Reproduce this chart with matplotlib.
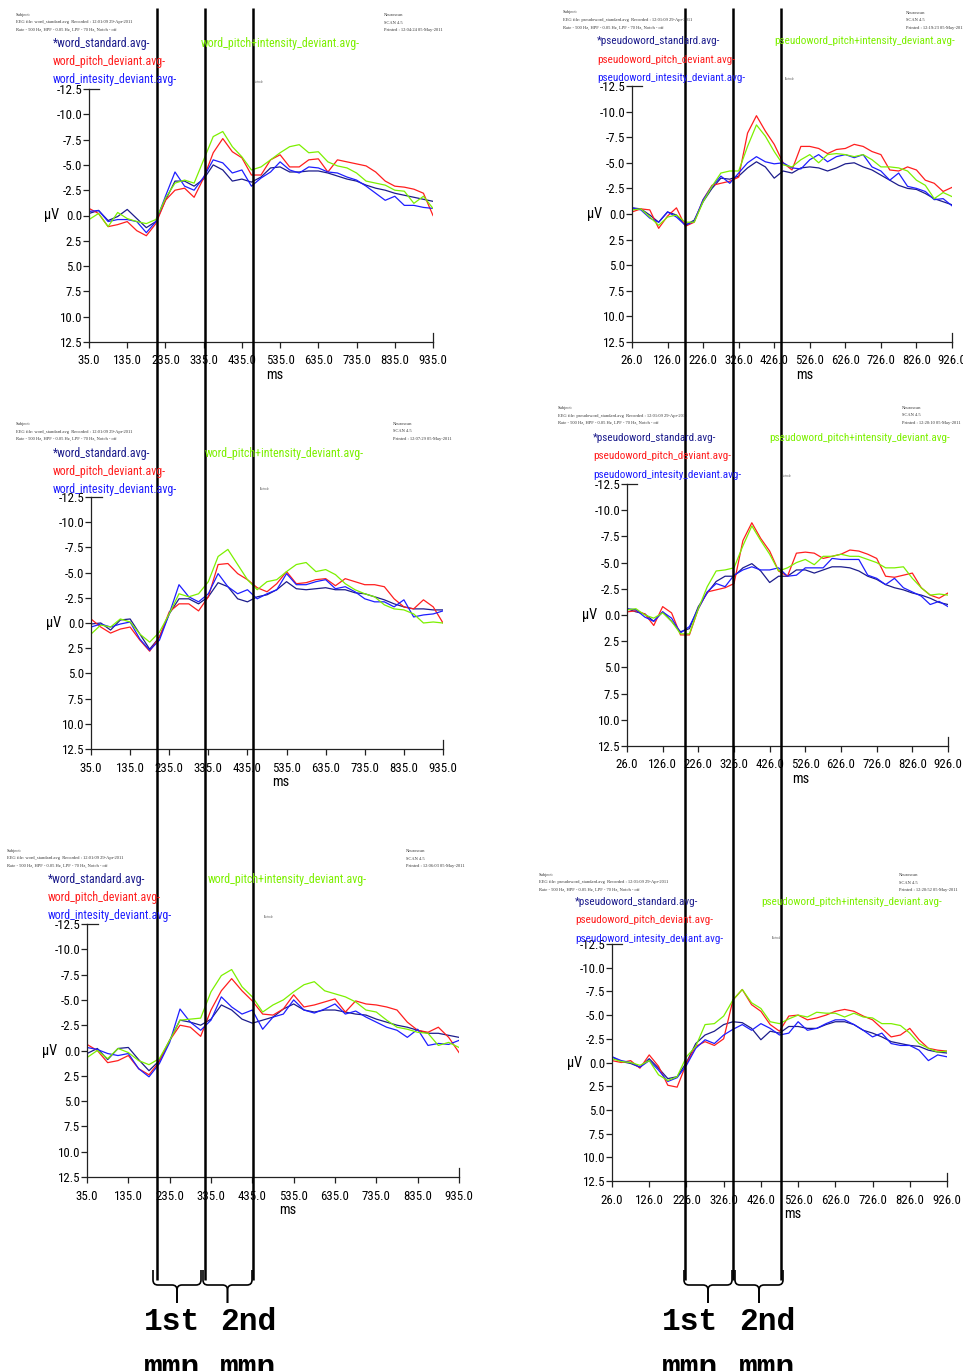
import matplotlib
matplotlib.use('Agg')
import matplotlib.pyplot as plt
import matplotlib.font_manager as fm
from matplotlib.font_manager import FontProperties
from matplotlib.textpath import TextPath
from matplotlib.path import Path
from matplotlib.patches import PathPatch
import numpy as np

W, H = 963, 1371

# time axes (ms)
t_word = np.arange(35, 936, 25)
t_pseudo = np.arange(26, 927, 25)
word_ticks = np.arange(35, 936, 100)
pseudo_ticks = np.arange(26, 927, 100)
uv_ticks = np.arange(-12.5, 12.6, 2.5)

# ERP values (uV), negative is up
p1_std = [-0.2, -0.5, 0.5, 0.1, -0.6, 0.3, 1.2, 0.6, -1.5, -3.4, -3.4, -2.9, -3.6, -5.0, -4.5, -3.4, -3.6, -3.3, -3.8,
          -4.7, -4.8, -4.3, -4.3, -4.4, -4.4, -4.2, -3.9, -3.6, -3.4, -3.0, -2.7, -2.5, -2.2, -2.0, -1.8, -1.6, -1.4]
p1_pitch = [-0.7, -0.2, 1.1, 0.9, 0.6, 1.5, 2.0, 0.8, -1.5, -2.5, -2.7, -1.8, -3.7, -6.2, -7.6, -6.3, -5.7, -4.0, -4.0,
            -5.5, -6.0, -4.8, -4.8, -5.5, -5.6, -4.3, -5.5, -5.3, -5.1, -4.9, -4.3, -3.4, -2.9, -2.8, -2.6, -2.2, 0.0]
p1_int = [-0.4, -0.5, 0.6, 0.4, 0.4, 0.6, 1.7, 0.6, -1.9, -4.3, -2.9, -2.5, -3.8, -5.5, -5.2, -4.2, -4.5, -2.9, -3.7,
          -4.3, -5.3, -4.5, -4.2, -4.8, -4.7, -4.3, -4.2, -3.8, -3.5, -2.9, -2.2, -1.5, -1.9, -1.0, -1.0, -0.8, -0.7]
p1_both = [0.4, -0.2, 1.1, -0.3, 0.3, 0.6, 0.8, 0.4, -1.7, -3.2, -3.5, -3.2, -5.5, -7.8, -8.3, -6.8, -5.8, -4.5, -4.8,
           -5.5, -6.2, -6.8, -7.0, -6.2, -6.3, -5.3, -4.9, -4.7, -4.2, -3.4, -3.2, -3.0, -2.5, -2.4, -1.2, -1.9, -0.7]

p2_std = [-0.6, -0.5, 0.1, 0.8, -0.2, 0.1, 1.1, 0.6, -1.2, -2.5, -3.5, -3.4, -3.7, -4.5, -5.1, -4.6, -3.5, -4.2, -4.0,
          -4.5, -4.6, -4.5, -4.2, -4.5, -4.9, -5.0, -4.6, -4.3, -3.8, -3.3, -2.8, -2.5, -2.4, -2.0, -1.5, -1.2, -0.9]
p2_pitch = [-0.2, -0.5, -0.4, 1.4, 0.2, -0.6, 1.2, 0.8, -1.4, -2.8, -3.0, -3.2, -3.6, -7.9, -9.6, -8.1, -6.8, -5.0, -4.3,
            -6.6, -6.6, -6.4, -5.9, -6.3, -6.4, -6.8, -6.6, -6.1, -5.8, -4.3, -4.2, -4.6, -4.3, -3.3, -3.0, -2.2, -2.6]
p2_int = [-0.6, -0.4, 0.4, 0.8, -0.2, 0.3, 1.1, 0.7, -1.4, -2.7, -3.7, -3.0, -4.0, -5.0, -5.6, -5.1, -4.9, -5.0, -4.5,
          -4.4, -5.3, -5.8, -5.1, -5.6, -5.8, -5.5, -5.8, -4.6, -4.2, -3.3, -4.0, -2.7, -2.5, -2.2, -1.4, -1.5, -0.8]
p2_both = [-0.4, -0.5, 0.3, 1.1, 0.3, 0.1, 0.8, 0.8, -1.2, -2.7, -4.0, -4.2, -4.2, -6.6, -8.7, -7.6, -6.1, -4.8, -4.6,
           -5.3, -5.8, -5.0, -5.8, -5.9, -5.8, -5.6, -5.8, -5.3, -4.6, -4.6, -4.5, -4.2, -3.3, -2.8, -1.5, -2.1, -1.7]

p3_std = [0.1, 0.0, 0.7, -0.3, -0.4, 1.1, 2.6, 1.4, -0.9, -2.4, -2.4, -1.9, -2.6, -4.0, -3.6, -2.4, -2.1, -2.6, -2.8,
          -3.3, -4.1, -3.4, -3.3, -3.4, -3.5, -3.3, -3.3, -3.0, -2.9, -2.6, -2.3, -1.9, -1.6, -1.4, -1.4, -1.3, -1.3]
p3_pitch = [-0.4, 0.4, 1.0, 0.6, 0.4, 1.7, 2.8, 1.4, -1.1, -1.9, -1.9, -1.2, -2.6, -5.8, -5.9, -4.9, -4.3, -3.5, -3.1,
            -3.9, -5.1, -3.9, -4.0, -4.3, -4.4, -3.7, -4.4, -4.1, -3.8, -3.8, -3.6, -2.4, -1.6, -1.4, -2.3, -1.6, 0.0]
p3_int = [0.4, 0.1, 0.4, 0.1, -0.1, 1.6, 2.7, 1.7, -0.9, -3.8, -2.6, -2.1, -2.9, -4.9, -3.6, -2.9, -3.3, -2.4, -2.9,
          -3.3, -4.9, -3.8, -3.8, -4.1, -4.3, -3.4, -3.6, -3.1, -2.4, -2.1, -2.1, -1.6, -2.3, -0.6, -0.8, -0.9, -1.2]
p3_both = [1.1, 0.2, 0.4, -0.4, -0.1, 1.1, 1.9, 0.9, -0.9, -2.9, -2.6, -2.9, -4.1, -6.6, -7.3, -5.8, -4.3, -3.3, -4.1,
           -4.3, -5.1, -5.8, -6.0, -5.1, -5.3, -4.8, -3.9, -3.3, -2.9, -2.6, -1.8, -1.4, -1.3, -0.9, 0.0, -0.1, 0.0]

p4_std = [-0.6, -0.3, -0.1, 0.6, -0.3, 0.6, 1.6, 1.3, -0.8, -2.1, -3.2, -3.7, -3.7, -4.5, -4.9, -4.2, -3.1, -3.7, -3.7,
          -4.3, -4.3, -4.0, -4.3, -4.6, -4.6, -4.5, -4.2, -3.7, -3.4, -2.9, -2.6, -2.4, -2.1, -1.9, -1.6, -1.2, -1.0]
p4_pitch = [-0.3, -0.4, -0.1, 1.0, -0.8, -0.2, 1.9, 1.9, -0.6, -2.2, -2.4, -2.6, -3.0, -7.1, -8.8, -7.3, -6.1, -4.2, -3.7,
            -5.9, -6.0, -5.9, -5.4, -5.6, -5.8, -6.2, -6.1, -5.8, -5.4, -3.7, -3.6, -3.8, -4.0, -2.6, -1.9, -1.6, -2.1]
p4_int = [-0.6, -0.5, 0.2, 0.6, -0.3, 0.3, 1.7, 1.1, -0.6, -2.2, -3.0, -2.7, -3.8, -4.3, -4.6, -4.3, -4.3, -4.5, -3.7,
          -3.8, -4.5, -4.5, -4.5, -5.4, -5.3, -5.3, -5.3, -3.8, -3.5, -2.9, -3.5, -2.6, -2.2, -1.8, -1.0, -1.3, -0.8]
p4_both = [-0.5, -0.6, 0.0, 0.3, -0.2, 0.6, 1.8, 1.8, -0.6, -2.7, -4.2, -4.3, -4.5, -6.6, -8.5, -7.1, -5.8, -4.2, -4.5,
           -5.0, -5.3, -4.8, -5.6, -5.6, -5.8, -5.6, -5.6, -5.3, -5.0, -4.5, -4.5, -4.6, -3.5, -2.6, -1.9, -2.0, -1.9]

p5_std = [0.3, -0.2, 0.9, -0.2, -0.3, 0.9, 2.0, 1.0, -1.0, -3.0, -2.8, -2.5, -3.1, -4.5, -4.0, -3.1, -2.7, -3.0, -3.3,
          -4.1, -4.6, -4.0, -3.8, -4.0, -4.0, -3.8, -3.6, -3.5, -3.1, -2.8, -2.5, -2.3, -2.0, -1.7, -1.7, -1.5, -1.3]
p5_pitch = [-0.6, 0.0, 1.2, 1.0, 0.5, 1.8, 2.4, 1.1, -1.0, -2.5, -2.3, -1.4, -4.0, -5.9, -7.1, -5.9, -4.9, -3.6, -3.5,
            -4.1, -5.5, -4.3, -4.5, -4.8, -5.1, -3.8, -4.9, -4.6, -4.5, -4.3, -4.0, -2.8, -2.0, -1.8, -2.3, -1.3, 0.2]
p5_int = [-0.3, -0.1, 0.3, 0.5, 0.3, 1.8, 2.6, 1.3, -0.8, -4.1, -2.8, -2.0, -3.0, -5.3, -4.3, -3.6, -4.0, -2.1, -3.3,
          -3.6, -5.0, -4.0, -3.7, -4.1, -4.6, -3.6, -3.9, -3.3, -2.8, -2.3, -2.0, -1.3, -2.1, -0.5, -0.7, -0.6, -1.0]
p5_both = [0.7, 0.0, 0.8, -0.2, 0.2, 1.0, 1.4, 0.8, -1.0, -3.0, -3.1, -3.2, -5.8, -7.4, -8.0, -6.3, -5.3, -3.8, -4.5,
           -5.0, -5.8, -6.5, -6.8, -5.9, -5.6, -5.3, -4.8, -4.0, -3.8, -3.0, -2.3, -2.1, -1.8, -1.7, -0.5, -0.8, -0.3]

p6_std = [-0.6, -0.1, 0.1, 0.5, -0.4, 0.6, 1.7, 1.5, 0.0, -2.0, -2.9, -3.3, -4.0, -4.3, -4.2, -3.6, -2.4, -3.3, -3.1,
          -3.8, -3.8, -3.6, -3.6, -4.0, -4.3, -4.3, -4.0, -3.4, -3.1, -2.7, -2.2, -2.0, -1.8, -1.7, -1.3, -1.1, -1.0]
p6_pitch = [-0.2, 0.0, -0.2, 0.6, -0.8, 0.4, 2.4, 2.6, 0.1, -1.7, -2.2, -1.8, -2.5, -6.6, -7.7, -6.1, -5.4, -4.0, -3.3,
            -4.9, -5.0, -4.5, -4.7, -5.0, -5.4, -5.6, -5.4, -4.9, -4.5, -3.6, -2.7, -2.9, -3.6, -2.4, -1.5, -1.3, -1.2]
p6_int = [-0.6, -0.2, 0.0, 0.5, -0.2, 0.8, 2.0, 1.6, 0.3, -1.5, -2.4, -2.0, -2.9, -3.5, -4.0, -3.4, -4.1, -3.6, -2.9,
          -3.1, -4.3, -3.4, -3.6, -4.1, -4.5, -4.5, -4.0, -3.4, -2.7, -3.1, -2.0, -1.8, -1.8, -1.3, -0.2, -0.8, -0.6]
p6_both = [-0.4, -0.1, 0.0, 0.3, -0.2, 1.3, 1.9, 1.5, -0.6, -1.7, -4.0, -4.1, -4.9, -6.6, -7.7, -6.3, -5.7, -4.3, -4.1,
           -4.6, -5.0, -4.8, -5.3, -5.2, -5.2, -4.8, -5.2, -4.8, -4.7, -4.1, -4.1, -3.9, -3.1, -2.0, -1.5, -1.1, -1.2]

word_names = ["*word_standard.avg-", "word_pitch_deviant.avg-", "word_intesity_deviant.avg-",
              "word_pitch+intensity_deviant.avg-"]
pseudo_names = ["*pseudoword_standard.avg-", "pseudoword_pitch_deviant.avg-", "pseudoword_intesity_deviant.avg-",
                "pseudoword_pitch+intensity_deviant.avg-"]
printed = ["12:04:24", "12:19:23", "12:07:29", "12:20:10", "12:06:03", "12:20:52"]

COLORS = ["#1c1c8c", "#ff1e1e", "#1e1eff", "#7cf000"]


def find_narrow():
    prefs = ["Liberation Sans Narrow", "Arial Narrow", "Roboto Condensed", "DejaVu Sans", "Open Sans", "Noto Sans"]
    best = None
    for f in fm.fontManager.ttflist:
        st = str(f.stretch)
        narrow = ("Narrow" in f.name or "Condensed" in f.name or "condensed" in st)
        if not narrow or "semi" in st or "Mono" in f.name or "Serif" in f.name:
            continue
        if f.style != "normal" or f.weight not in (400, "normal", "regular"):
            continue
        rank = prefs.index(f.name) if f.name in prefs else len(prefs)
        if best is None or rank < best[0]:
            best = (rank, f.fname)
    if best:
        return FontProperties(fname=best[1])
    return FontProperties(family="Liberation Sans")


SANS = find_narrow()


def size_for(prop, text, width_px):
    w = TextPath((0, 0), text, size=10, prop=prop).get_extents().width
    return 10 * width_px / (w * 100 / 72)


tick_size = size_for(SANS, "935.0", 27.5)
word_leg = np.mean([size_for(SANS, word_names[0], 98), size_for(SANS, word_names[3], 158)])
pseudo_leg = np.mean([size_for(SANS, pseudo_names[0], 124), size_for(SANS, pseudo_names[3], 178)])
serif = FontProperties(family="Liberation Serif")
hdr_size = size_for(serif, "Rate - 500 Hz, HPF - 0.05 Hz, LPF - 70 Hz, Notch - off", 102)

# panel boxes in pixels: left, right, top, bottom
panels = [
    dict(box=(89, 433, 89, 342), t=t_word, ticks=word_ticks, data=(p1_std, p1_pitch, p1_int, p1_both),
         names=word_names, leg=(53, 43, 201), hdr=(16, 15, 384), elec=(254, 82)),
    dict(box=(632, 952, 86, 342), t=t_pseudo, ticks=pseudo_ticks, data=(p2_std, p2_pitch, p2_int, p2_both),
         names=pseudo_names, leg=(597, 41.5, 774), hdr=(563, 12.5, 906), elec=(785, 79)),
    dict(box=(91, 443, 497, 749), t=t_word, ticks=word_ticks, data=(p3_std, p3_pitch, p3_int, p3_both),
         names=word_names, leg=(53, 453, 205), hdr=(16, 424, 393), elec=(260, 489)),
    dict(box=(627, 948, 484, 746), t=t_pseudo, ticks=pseudo_ticks, data=(p4_std, p4_pitch, p4_int, p4_both),
         names=pseudo_names, leg=(593, 438, 769), hdr=(558, 408, 902), elec=(782, 476)),
    dict(box=(87, 459, 924, 1177), t=t_word, ticks=word_ticks, data=(p5_std, p5_pitch, p5_int, p5_both),
         names=word_names, leg=(48, 879, 208), hdr=(7, 851, 406), elec=(264, 917)),
    dict(box=(612, 947, 944, 1181), t=t_pseudo, ticks=pseudo_ticks, data=(p6_std, p6_pitch, p6_int, p6_both),
         names=pseudo_names, leg=(575, 902, 761), hdr=(539, 875, 899), elec=(772, 938)),
]

fig = plt.figure(figsize=(W / 100, H / 100), dpi=100)
over = fig.add_axes([0, 0, 1, 1], zorder=10)
over.set_xlim(0, W)
over.set_ylim(H, 0)
over.axis('off')
over.patch.set_alpha(0)

for i, p in enumerate(panels):
    l, r, t, b = p["box"]
    ax = fig.add_axes([l / W, 1 - b / H, (r - l) / W, (b - t) / H])
    for y, c in zip(p["data"], COLORS):
        ax.plot(p["t"], y, color=c, lw=0.9)
    ax.set_xlim(p["t"][0], p["t"][-1])
    ax.set_ylim(12.5, -12.5)
    for s in ["top", "right"]:
        ax.spines[s].set_visible(False)
    for s in ["left", "bottom"]:
        ax.spines[s].set_linewidth(0.9)
        ax.spines[s].set_color("#222222")
    ax.set_xticks(p["ticks"])
    ax.set_xticklabels(["%.1f" % v for v in p["ticks"]])
    ax.set_yticks(uv_ticks)
    ax.set_yticklabels(["%.1f" % v for v in uv_ticks])
    ax.tick_params(length=4, width=0.9, color="#222222", labelsize=tick_size)
    ax.tick_params(axis="x", pad=5)
    ax.tick_params(axis="y", pad=1)
    for lab in ax.get_xticklabels() + ax.get_yticklabels():
        lab.set_fontproperties(SANS)
        lab.set_fontsize(tick_size)
    ax.axvline(p["t"][-1], ymin=0, ymax=0.035, color="#222222", lw=0.9, clip_on=False)
    ax.axhline(-12.5, xmin=0, xmax=0.03, color="#222222", lw=0.9, clip_on=False)
    ax.set_xlabel("ms", fontproperties=SANS, fontsize=tick_size * 1.1)
    ax.xaxis.set_label_coords(0.54, -26 / (b - t), transform=ax.transAxes)
    ax.set_ylabel("µV", fontproperties=SANS, fontsize=tick_size * 1.1, rotation=0, va="center", ha="center")
    ax.yaxis.set_label_coords(-37 / (r - l), 0.5)
    ax.patch.set_alpha(0)

    # legend-like file names
    lx, ly, gx = p["leg"]
    fs = pseudo_leg if i % 2 else word_leg
    for k in range(3):
        over.text(lx, ly + 18.3 * k, p["names"][k], color=COLORS[k], fontproperties=SANS, fontsize=fs,
                  va="center", ha="left")
    over.text(gx, ly, p["names"][3], color=COLORS[3], fontproperties=SANS, fontsize=fs, va="center", ha="left")

    # header
    hx, hy, rx = p["hdr"]
    src = "pseudoword_standard.avg" if i % 2 else "word_standard.avg"
    left_lines = ["Subject:", "EEG file: %s  Recorded : 12:01:09 29-Apr-2011" % src,
                  "Rate - 500 Hz, HPF - 0.05 Hz, LPF - 70 Hz, Notch - off"]
    right_lines = ["Neuroscan", "SCAN 4.5", "Printed : %s 05-May-2011" % printed[i]]
    for k in range(3):
        over.text(hx, hy + 7.5 * k, left_lines[k], fontproperties=serif, fontsize=hdr_size,
                  color="#333333", va="center", ha="left")
        over.text(rx, hy + 7.5 * k, right_lines[k], fontproperties=serif, fontsize=hdr_size,
                  color="#333333", va="center", ha="left")
    ex, ey = p["elec"]
    over.text(ex, ey, "Electrode", fontproperties=serif, fontsize=1.8, color="#444444", va="center")

# window markers and braces
line_x = [157, 205, 253, 685, 733, 781]
for x in line_x:
    over.plot([x, x], [8, 1280], color="black", lw=1.8, solid_capstyle="butt")


def brace(x0, x1, ytop, yh, ytip, r=5):
    xm = (x0 + x1) / 2
    codes = [Path.MOVETO, Path.LINETO, Path.CURVE3, Path.CURVE3, Path.LINETO, Path.CURVE3, Path.CURVE3, Path.LINETO]
    for xa, sgn in ((x0, 1), (x1, -1)):
        verts = [(xa, ytop), (xa, yh - r), (xa, yh), (xa + sgn * r, yh), (xm - sgn * r, yh), (xm, yh),
                 (xm, yh + r), (xm, ytip)]
        over.add_patch(PathPatch(Path(verts, codes), fill=False, lw=1.2, color="black"))


for x0, x1 in [(153, 201), (203, 252), (684, 732), (735, 783)]:
    brace(x0, x1, 1270, 1285, 1303)

for cx, lab in [(172, "1st"), (248, "2nd"), (690, "1st"), (767, "2nd")]:
    over.text(cx, 1322, lab, family="Liberation Mono", weight="bold", fontsize=22.5, ha="center", va="center")
    over.text(cx, 1376, "mmn", family="Liberation Mono", weight="bold", fontsize=22.5, ha="center", va="baseline")

fig.savefig("out.png", dpi=100, facecolor="white")
